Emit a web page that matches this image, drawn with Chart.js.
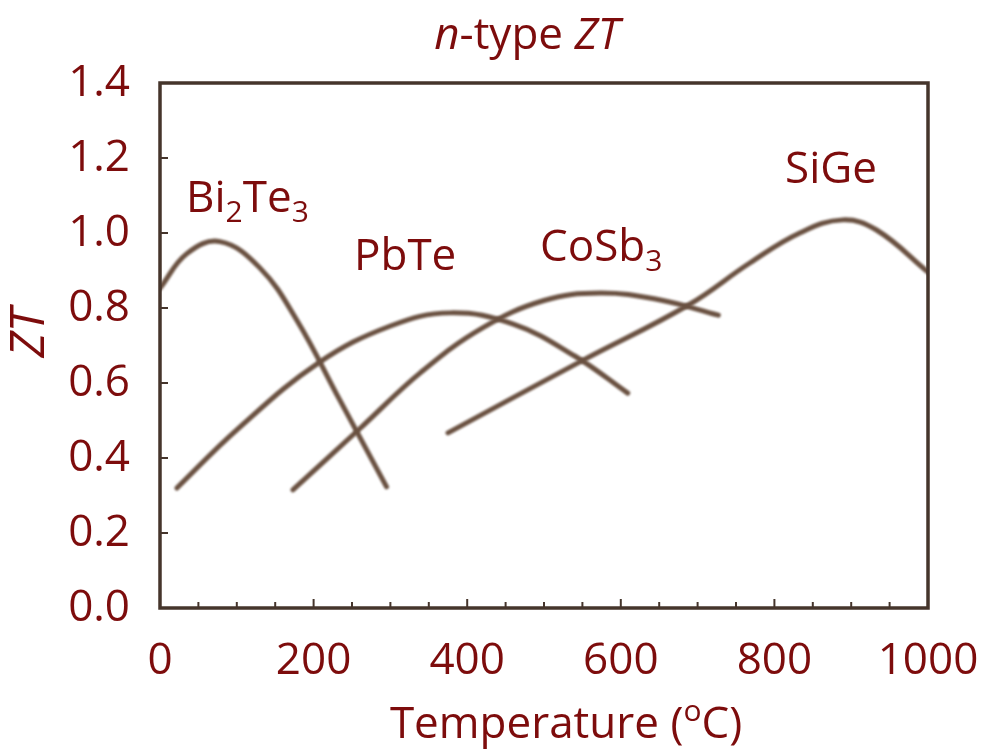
<!DOCTYPE html>
<html>
<head>
<meta charset="utf-8">
<script src="https://cdn.jsdelivr.net/npm/chart.js@4"></script>
<style>
  html, body { margin: 0; padding: 0; background: #fff; }
  #chart { display: block; }
</style>
</head>
<body>
<canvas id="chart" width="1001" height="754"></canvas>
<script>
  // values (temperature in degC, ZT)
  const tempBi2Te3 = [0, 35, 78, 130, 178, 234, 295];
  const ztBi2Te3 = [0.853, 0.945, 0.977, 0.907, 0.768, 0.555, 0.323];

  const tempPbTe = [22, 100, 206, 300, 378, 460, 540, 609];
  const ztPbTe = [0.32, 0.475, 0.653, 0.752, 0.787, 0.757, 0.672, 0.573];

  const tempCoSb3 = [173, 260, 340, 420, 500, 573, 650, 727];
  const ztCoSb3 = [0.315, 0.478, 0.629, 0.747, 0.82, 0.84, 0.822, 0.781];

  const tempSiGe = [375, 551, 688, 768, 833, 889, 933, 1000];
  const ztSiGe = [0.467, 0.661, 0.808, 0.92, 1.0, 1.035, 1.008, 0.896];

  const xTicks = [0, 200, 400, 600, 800, 1000];
  const yTicks = [0, 0.2, 0.4, 0.6, 0.8, 1.0, 1.2, 1.4];

  const textColor = '#7d0c0c';
  const lineColor = '#6a5141';
  const frameColor = '#45352b';
  const fontFamily = "'Open Sans', sans-serif";

  const toPoints = (xs, ys) => xs.map((x, i) => ({ x: x, y: ys[i] }));

  // draws a string made of pieces: [text, kind] with kind n / i / sub / sup
  function drawRich(ctx, parts, x, y, size, align) {
    const fontFor = kind => {
      const s = (kind === 'sub' || kind === 'sup') ? Math.round(size * 0.68) : size;
      return (kind === 'i' ? 'italic ' : '') + s + 'px ' + fontFamily;
    };
    let total = 0;
    parts.forEach(([t, k]) => { ctx.font = fontFor(k); total += ctx.measureText(t).width; });
    let cx = align === 'center' ? x - total / 2 : x;
    ctx.textAlign = 'left';
    ctx.textBaseline = 'alphabetic';
    parts.forEach(([t, k]) => {
      ctx.font = fontFor(k);
      let dy = 0;
      if (k === 'sub') dy = size * 0.22;
      if (k === 'sup') dy = -size * 0.38;
      ctx.fillText(t, cx, y + dy);
      cx += ctx.measureText(t).width;
    });
  }

  const framePlugin = {
    id: 'frame',
    beforeDatasetsDraw(chart) {
      const ctx = chart.ctx;
      ctx.save();
      ctx.filter = 'blur(0.8px)';
    },
    afterDatasetsDraw(chart) {
      const ctx = chart.ctx;
      ctx.restore();
      const a = chart.chartArea;
      const xs = chart.scales.x;
      const ys = chart.scales.y;
      ctx.save();
      ctx.strokeStyle = frameColor;
      ctx.lineWidth = 2;
      // inward tick marks
      for (let t = 50; t < 1000; t += 50) {
        const px = xs.getPixelForValue(t);
        const len = t % 200 === 0 ? 9 : 6;
        ctx.beginPath();
        ctx.moveTo(px, a.bottom);
        ctx.lineTo(px, a.bottom - len);
        ctx.stroke();
      }
      yTicks.slice(1, -1).forEach(v => {
        const py = ys.getPixelForValue(v);
        ctx.beginPath();
        ctx.moveTo(a.left, py);
        ctx.lineTo(a.left + 8, py);
        ctx.stroke();
      });
      ctx.lineWidth = 3.5;
      ctx.strokeRect(a.left, a.top, a.right - a.left, a.bottom - a.top);
      ctx.restore();
    },
    afterDraw(chart) {
      const ctx = chart.ctx;
      ctx.save();
      ctx.fillStyle = textColor;
      drawRich(ctx, [['n', 'i'], ['-type ', 'n'], ['ZT', 'i']], 527, 49, 44, 'center');
      drawRich(ctx, [['Temperature (', 'n'], ['o', 'sup'], ['C)', 'n']], 566, 738, 44, 'center');
      drawRich(ctx, [['Bi', 'n'], ['2', 'sub'], ['Te', 'n'], ['3', 'sub']], 186, 212, 44, 'left');
      drawRich(ctx, [['PbTe', 'n']], 354, 270, 44, 'left');
      drawRich(ctx, [['CoSb', 'n'], ['3', 'sub']], 540, 261, 44, 'left');
      drawRich(ctx, [['SiGe', 'n']], 785, 183, 44, 'left');
      ctx.translate(44, 333);
      ctx.rotate(-Math.PI / 2);
      drawRich(ctx, [['ZT', 'i']], 0, 0, 48, 'center');
      ctx.restore();
    }
  };

  const seriesStyle = {
    borderColor: lineColor,
    borderWidth: 5,
    pointRadius: 0,
    fill: false,
    tension: 0.4,
    borderCapStyle: 'round'
  };

  new Chart(document.getElementById('chart'), {
    type: 'line',
    data: {
      datasets: [
        Object.assign({ label: 'Bi2Te3', data: toPoints(tempBi2Te3, ztBi2Te3) }, seriesStyle),
        Object.assign({ label: 'PbTe', data: toPoints(tempPbTe, ztPbTe) }, seriesStyle),
        Object.assign({ label: 'CoSb3', data: toPoints(tempCoSb3, ztCoSb3) }, seriesStyle),
        Object.assign({ label: 'SiGe', data: toPoints(tempSiGe, ztSiGe) }, seriesStyle)
      ]
    },
    options: {
      responsive: false,
      animation: false,
      layout: { padding: { top: 83, right: 73, left: 0, bottom: 0 } },
      plugins: {
        legend: { display: false },
        tooltip: { enabled: false }
      },
      scales: {
        x: {
          type: 'linear',
          min: 0,
          max: 1000,
          afterFit: scale => { scale.height = 146; },
          afterBuildTicks: scale => { scale.ticks = xTicks.map(v => ({ value: v })); },
          grid: { display: false },
          border: { display: false },
          ticks: {
            color: textColor,
            padding: 19,
            maxRotation: 0,
            font: { family: fontFamily, size: 44 },
            callback: v => String(v)
          }
        },
        y: {
          min: 0,
          max: 1.4,
          afterFit: scale => { scale.width = 160; },
          afterBuildTicks: scale => { scale.ticks = yTicks.map(v => ({ value: v })); },
          grid: { display: false },
          border: { display: false },
          ticks: {
            color: textColor,
            padding: 22,
            font: { family: fontFamily, size: 44 },
            callback: v => v.toFixed(1)
          }
        }
      }
    },
    plugins: [framePlugin]
  });
</script>
</body>
</html>
